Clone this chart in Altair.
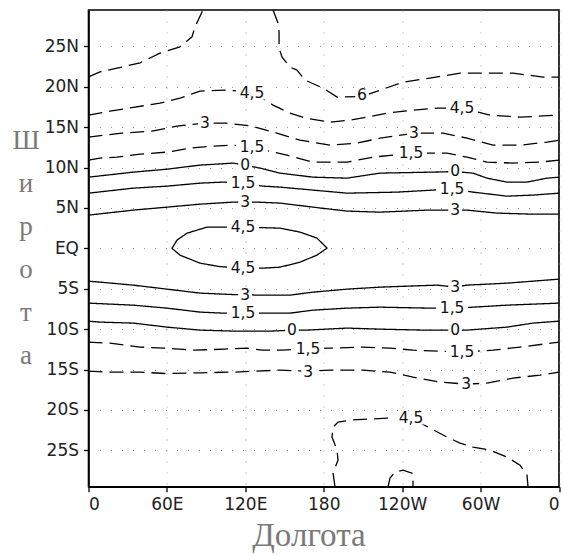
import altair as alt
import pandas as pd

# ---- contour lines (lon in degrees 0..360 east, lat in degrees) ----
N_EDGE_LON = [0, 8.8, 21.8, 39.4, 54.7, 70.0, 79.2, 81.5, 87.6]
N_EDGE_LAT = [21.23, 21.85, 22.30, 22.96, 24.16, 24.94, 26.18, 27.42, 29.5]

N6_LON = [141.2, 145.0, 145.8, 145.8, 148.1, 154.2, 159.5, 165.7, 179.4, 190.2, 209.3, 223.1, 240.7, 261.3, 284.3, 304.9, 324.8, 347.8, 360]
N6_LAT = [29.5, 27.87, 26.76, 24.78, 23.67, 22.43, 22.06, 20.82, 19.83, 18.72, 18.8, 19.58, 20.57, 21.07, 21.69, 21.69, 21.69, 21.19, 21.19]

N45_LON = [0, 16.5, 35.6, 54.7, 70.0, 85.3, 104.4, 125.1, 141.2, 154.2, 165.7, 184.8, 200.1, 213.1, 228.4, 248.3, 266.7, 285.8, 307.2, 330.2, 360]
N45_LAT = [16.49, 16.98, 17.48, 17.97, 18.59, 19.46, 19.58, 19.4, 17.73, 16.74, 16.12, 15.62, 15.87, 16.24, 16.74, 17.11, 17.35, 17.35, 16.49, 16.24, 16.49]

N3D_LON = [0, 25.7, 48.6, 67.7, 89.1, 104.4, 125.1, 144.2, 161.8, 184.8, 205.5, 223.1, 249.0, 271.3, 289.6, 309.5, 330.2, 350.9, 360]
N3D_LAT = [13.77, 14.26, 14.51, 15.13, 15.50, 15.50, 15.13, 14.26, 13.39, 12.77, 13.02, 13.64, 14.26, 14.26, 13.64, 12.77, 12.77, 13.15, 13.39]

N15D_LON = [0, 8.8, 21.8, 39.4, 60.1, 77.6, 95.3, 110.6, 125.1, 141.2, 151.9, 171.8, 197.8, 217.7, 246.8, 274.3, 289.6, 304.9, 324.8, 345.5, 360]
N15D_LAT = [10.92, 11.17, 11.29, 11.66, 11.91, 12.40, 12.65, 12.77, 12.53, 11.91, 11.54, 10.67, 10.67, 11.29, 11.78, 11.78, 11.29, 10.67, 10.55, 10.67, 10.92]

N0_LON = [0, 34.1, 60.1, 85.3, 110.6, 119.8, 131.2, 146.5, 171.8, 197.8, 223.1, 261.3, 280.5, 294.2, 304.9, 320.2, 335.5, 350.9, 360]
N0_LAT = [8.81, 9.43, 9.80, 10.30, 10.55, 10.30, 9.93, 9.31, 8.81, 8.69, 9.31, 9.43, 9.50, 9.31, 8.69, 8.20, 8.20, 8.69, 8.81]

N15_LON = [0, 34.1, 60.1, 85.3, 102.9, 118.2, 133.5, 146.5, 171.8, 197.8, 236.1, 263.6, 278.2, 294.2, 320.2, 340.1, 360]
N15_LAT = [6.83, 7.45, 7.70, 8.07, 8.20, 8.07, 7.70, 7.58, 7.21, 6.83, 6.96, 7.21, 7.35, 6.96, 6.46, 6.59, 6.83]

N3_LON = [0, 34.1, 60.1, 85.3, 110.6, 119.8, 128.9, 146.5, 171.8, 197.8, 223.1, 259.0, 280.5, 289.6, 312.6, 337.8, 360]
N3_LAT = [4.11, 4.73, 5.10, 5.47, 5.72, 5.72, 5.72, 5.60, 5.10, 4.61, 4.48, 4.73, 4.73, 4.73, 4.36, 4.24, 4.24]

EQ45_LON = [118.2, 146.5, 161.8, 174.8, 182.5, 174.8, 161.8, 146.5, 133.5, 118.2, 100.0, 85.3, 70.0, 63.9, 67.7, 75.4, 90.7, 118.2]
EQ45_LAT = [2.63, 2.50, 2.01, 1.27, 0.03, -0.84, -1.71, -2.33, -2.45, -2.45, -2.25, -1.83, -0.84, 0.0, 1.02, 1.88, 2.63, 2.63]

S3_LON = [0, 8.8, 34.1, 60.1, 85.3, 110.6, 119.8, 128.9, 154.2, 171.8, 197.8, 223.1, 266.7, 280.5, 289.6, 320.2, 340.1, 360]
S3_LAT = [-4.06, -4.18, -4.55, -5.05, -5.54, -5.72, -5.72, -5.79, -5.79, -5.42, -5.05, -4.80, -4.55, -4.80, -4.55, -4.31, -4.06, -3.81]

S15_LON = [0, 34.1, 60.1, 85.3, 102.9, 118.2, 133.5, 154.2, 171.8, 197.8, 223.1, 261.3, 278.2, 294.2, 320.2, 360]
S15_LAT = [-6.78, -7.03, -7.40, -7.89, -8.02, -7.95, -8.02, -8.02, -7.65, -7.40, -7.28, -7.40, -7.40, -7.28, -7.03, -6.78]

S0_LON = [0, 8.8, 34.1, 60.1, 85.3, 110.6, 140.0, 155.7, 167.2, 197.8, 223.1, 256.0, 280.5, 289.6, 320.2, 340.1, 360]
S0_LAT = [-9.01, -9.13, -9.25, -9.75, -10.12, -10.24, -10.24, -10.12, -10.12, -9.87, -10.0, -10.12, -10.12, -10.12, -9.75, -9.25, -9.01]

S15D_LON = [0, 16.5, 39.4, 58.1, 81.5, 104.4, 121.3, 132.7, 148.1, 168.0, 184.8, 210.0, 230.7, 248.3, 285.8, 309.5, 330.2, 360]
S15D_LAT = [-11.61, -11.73, -12.22, -12.35, -12.60, -12.47, -12.35, -12.60, -12.60, -12.40, -12.35, -12.22, -12.35, -12.60, -12.84, -12.60, -12.22, -11.61]

S3D_LON = [0, 14.2, 39.4, 60.1, 85.3, 110.6, 146.5, 168.0, 184.8, 210.0, 230.7, 248.3, 268.9, 288.9, 304.9, 324.8, 345.5, 360]
S3D_LAT = [-15.2, -15.32, -15.32, -15.50, -15.40, -15.32, -15.07, -15.2, -15.07, -15.07, -15.32, -15.94, -16.56, -16.8, -16.68, -16.06, -15.69, -15.32]

S45D_LON = [188.6, 187.1, 190.9, 190.2, 186.3, 187.1, 190.9, 200.1, 213.1, 228.4, 246.8, 261.3, 274.3, 284.3, 294.2, 307.2, 320.2, 330.2, 335.5, 336.3]
S45D_LAT = [-29.5, -27.82, -26.21, -24.97, -23.36, -22.13, -21.51, -21.26, -21.14, -21.01, -21.01, -22.25, -23.36, -24.11, -24.60, -24.97, -25.84, -26.83, -28.07, -29.5]

SSMALL_LON = [229.2, 230.7, 234.5, 240.7, 247.5, 248.3, 248.3]
SSMALL_LAT = [-29.5, -28.44, -27.69, -27.45, -27.82, -28.69, -29.5]

CONTOURS = [
    ("n_edge", "dashed", N_EDGE_LON, N_EDGE_LAT),
    ("n6", "dashed", N6_LON, N6_LAT),
    ("n45", "dashed", N45_LON, N45_LAT),
    ("n3d", "dashed", N3D_LON, N3D_LAT),
    ("n15d", "dashed", N15D_LON, N15D_LAT),
    ("n0", "solid", N0_LON, N0_LAT),
    ("n15", "solid", N15_LON, N15_LAT),
    ("n3", "solid", N3_LON, N3_LAT),
    ("eq45", "solid", EQ45_LON, EQ45_LAT),
    ("s3", "solid", S3_LON, S3_LAT),
    ("s15", "solid", S15_LON, S15_LAT),
    ("s0", "solid", S0_LON, S0_LAT),
    ("s15d", "dashed", S15D_LON, S15D_LAT),
    ("s3d", "dashed", S3D_LON, S3D_LAT),
    ("s45d", "dashed", S45D_LON, S45D_LAT),
    ("ssmall", "dashed", SSMALL_LON, SSMALL_LAT),
]

# ---- contour labels ----
LABEL_TEXT = ["6", "4,5", "4,5", "3", "3", "1,5", "1,5", "0", "0", "1,5", "1,5", "3", "3",
              "4,5", "4,5", "3", "3", "1,5", "1,5", "0", "0", "1,5", "1,5", "3", "3", "4,5"]
LABEL_LON = [209.3, 125.1, 285.8, 89.1, 249.0, 125.1, 246.8, 119.8, 280.5, 118.2, 278.2, 119.8, 280.5,
             118.2, 118.2, 119.8, 280.5, 118.2, 278.2, 155.7, 280.5, 168.0, 285.8, 168.0, 288.9, 246.8]
LABEL_LAT = [18.96, 19.21, 17.35, 15.50, 14.26, 12.53, 11.78, 10.30, 9.55, 8.07, 7.35, 5.72, 4.73,
             2.63, -2.45, -5.72, -4.80, -7.95, -7.40, -10.12, -10.12, -12.40, -12.84, -15.32, -16.80, -21.01]

X_TICKS = [0, 60, 120, 180, 240, 300, 360]
Y_TICKS = [-25, -20, -15, -10, -5, 0, 5, 10, 15, 20, 25]
X_TITLE = "Долгота"
Y_TITLE = ["Ш", "и", "р", "о", "т", "а"]

rows = []
for cid, style, lons, lats in CONTOURS:
    for i, (lo, la) in enumerate(zip(lons, lats)):
        rows.append({"id": cid, "style": style, "i": i, "lon": lo, "lat": la})
lines_df = pd.DataFrame(rows)
labels_df = pd.DataFrame({"t": LABEL_TEXT, "lon": LABEL_LON, "lat": LABEL_LAT})
labels_df["kind"] = ["wide" if len(t) > 1 else "narrow" for t in labels_df["t"]]

TICK_FONT = "DejaVu Sans"

xs = alt.Scale(domain=[0, 360], nice=False, zero=False)
ys = alt.Scale(domain=[-29.5, 29.5], nice=False, zero=False)

x_axis = alt.Axis(
    values=X_TICKS,
    labelExpr="datum.value == 0 || datum.value == 360 ? '0' : datum.value < 180 ? datum.value + 'E' : datum.value == 180 ? '180' : (360 - datum.value) + 'W'",
    title=X_TITLE, titleFont="Liberation Serif", titleFontSize=33, titleFontWeight="normal",
    titleColor="#7a7a7a", titleX=220, titleY=59, titleBaseline="alphabetic", titleAnchor="start",
    titleAlign="center",
)
y_axis = alt.Axis(
    values=Y_TICKS,
    labelExpr="datum.value == 0 ? 'EQ' : datum.value > 0 ? datum.value + 'N' : (-datum.value) + 'S'",
    title=Y_TITLE, titleAngle=0, titleFont="Liberation Serif", titleFontSize=27,
    titleFontWeight="normal", titleColor="#7a7a7a", titleX=-63, titleY=138,
    titleAlign="center", titleBaseline="alphabetic", titleLineHeight=43, titleAnchor="start",
)

lines = alt.Chart(lines_df).mark_line(color="black", strokeWidth=1.3).encode(
    x=alt.X("lon:Q", scale=xs, axis=x_axis),
    y=alt.Y("lat:Q", scale=ys, axis=y_axis),
    detail="id:N",
    order="i:Q",
    strokeDash=alt.StrokeDash("style:N", scale=alt.Scale(domain=["solid", "dashed"], range=[[1, 0], [14, 7]]), legend=None),
)

# white boxes that break the contour lines under their labels
boxes = alt.Chart(labels_df).mark_point(
    filled=True, fill="white", strokeWidth=0, opacity=1, size=256
).encode(
    x=alt.X("lon:Q", scale=xs), y=alt.Y("lat:Q", scale=ys),
    shape=alt.Shape("kind:N", scale=alt.Scale(
        domain=["wide", "narrow"],
        range=["M-2,-0.8H2V0.8H-2Z", "M-0.85,-0.8H0.85V0.8H-0.85Z"]), legend=None),
)

labels = alt.Chart(labels_df).mark_text(
    font=TICK_FONT, fontSize=15.5, color="#111", baseline="middle"
).encode(x=alt.X("lon:Q", scale=xs), y=alt.Y("lat:Q", scale=ys), text="t:N")

chart = alt.layer(lines, boxes, labels).properties(
    width=470.5, height=476.7,
    autosize=alt.AutoSizeParams(type="none"),
    padding={"left": 88.5, "top": 10, "right": 5, "bottom": 69.3},
    background="white",
).configure_view(
    stroke="black", strokeWidth=1.6
).configure_axis(
    domainColor="black", domainWidth=1.6, tickColor="black", tickWidth=1.3, tickSize=5,
    labelFont=TICK_FONT, labelFontSize=17, labelColor="#222", labelPadding=5,
    grid=True, gridColor="#999", gridDash=[1, 10], gridWidth=1,
)

chart.save("out.html", embed_options={"renderer": "svg", "actions": False})
